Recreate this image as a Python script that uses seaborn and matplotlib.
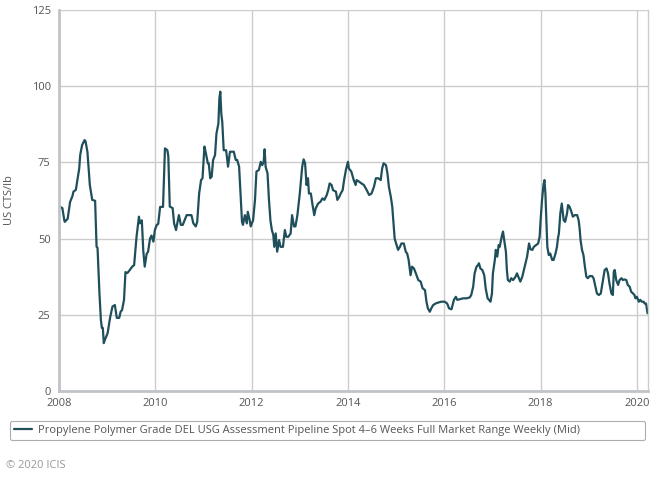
import matplotlib
matplotlib.use("Agg")
import matplotlib.pyplot as plt
import numpy as np
import pandas as pd
import seaborn as sns

# ── Data ──────────────────────────────────────────────────────────────────────
# x: decimal year, y: US cents per lb
years = [
    2008.02, 2008.07, 2008.11, 2008.12, 2008.18, 2008.23, 2008.28, 2008.30, 2008.35, 2008.39,
    2008.42, 2008.44, 2008.48, 2008.53, 2008.55, 2008.59, 2008.64, 2008.69, 2008.75, 2008.78,
    2008.80, 2008.84, 2008.87, 2008.89, 2008.91, 2008.93, 2008.95, 2009.01, 2009.06, 2009.11,
    2009.16, 2009.20, 2009.25, 2009.28, 2009.31, 2009.35, 2009.38, 2009.42, 2009.47, 2009.52,
    2009.56, 2009.61, 2009.66, 2009.68, 2009.72, 2009.75, 2009.78, 2009.82, 2009.85, 2009.89,
    2009.92, 2009.96, 2009.99, 2010.03, 2010.06, 2010.10, 2010.16, 2010.20, 2010.25, 2010.27,
    2010.30, 2010.36, 2010.39, 2010.43, 2010.45, 2010.49, 2010.53, 2010.57, 2010.65, 2010.75,
    2010.79, 2010.84, 2010.87, 2010.91, 2010.95, 2010.98, 2011.02, 2011.05, 2011.09, 2011.11,
    2011.14, 2011.17, 2011.20, 2011.24, 2011.27, 2011.31, 2011.33, 2011.35, 2011.37, 2011.39,
    2011.42, 2011.47, 2011.51, 2011.55, 2011.58, 2011.63, 2011.67, 2011.70, 2011.74, 2011.77,
    2011.80, 2011.82, 2011.86, 2011.90, 2011.92, 2011.96, 2011.98, 2012.03, 2012.07, 2012.10,
    2012.15, 2012.19, 2012.22, 2012.25, 2012.27, 2012.29, 2012.33, 2012.36, 2012.39, 2012.42,
    2012.45, 2012.47, 2012.50, 2012.53, 2012.57, 2012.60, 2012.65, 2012.69, 2012.72, 2012.76,
    2012.81, 2012.84, 2012.88, 2012.91, 2012.95, 2013.00, 2013.05, 2013.08, 2013.11, 2013.14,
    2013.17, 2013.19, 2013.23, 2013.26, 2013.30, 2013.33, 2013.38, 2013.43, 2013.47, 2013.51,
    2013.56, 2013.59, 2013.62, 2013.66, 2013.69, 2013.75, 2013.78, 2013.82, 2013.85, 2013.89,
    2013.92, 2013.96, 2014.00, 2014.02, 2014.07, 2014.12, 2014.16, 2014.18, 2014.23, 2014.28,
    2014.33, 2014.39, 2014.44, 2014.49, 2014.54, 2014.58, 2014.63, 2014.68, 2014.71, 2014.74,
    2014.79, 2014.82, 2014.85, 2014.89, 2014.92, 2014.95, 2014.97, 2015.01, 2015.04, 2015.08,
    2015.11, 2015.16, 2015.20, 2015.23, 2015.26, 2015.30, 2015.33, 2015.37, 2015.41, 2015.46,
    2015.51, 2015.55, 2015.60, 2015.63, 2015.66, 2015.70, 2015.73, 2015.77, 2015.82, 2015.87,
    2015.94, 2016.01, 2016.06, 2016.10, 2016.15, 2016.20, 2016.24, 2016.27, 2016.32, 2016.39,
    2016.46, 2016.53, 2016.56, 2016.60, 2016.63, 2016.67, 2016.70, 2016.72, 2016.75, 2016.79,
    2016.83, 2016.86, 2016.90, 2016.93, 2016.96, 2016.99, 2017.01, 2017.05, 2017.07, 2017.10,
    2017.13, 2017.15, 2017.20, 2017.22, 2017.24, 2017.28, 2017.30, 2017.32, 2017.36, 2017.39,
    2017.43, 2017.48, 2017.51, 2017.55, 2017.58, 2017.62, 2017.67, 2017.72, 2017.76, 2017.79,
    2017.83, 2017.86, 2017.91, 2017.95, 2017.98, 2018.00, 2018.03, 2018.06, 2018.08, 2018.10,
    2018.12, 2018.14, 2018.17, 2018.20, 2018.24, 2018.27, 2018.31, 2018.34, 2018.36, 2018.38,
    2018.41, 2018.44, 2018.48, 2018.51, 2018.55, 2018.57, 2018.60, 2018.64, 2018.67, 2018.71,
    2018.76, 2018.79, 2018.81, 2018.83, 2018.86, 2018.89, 2018.92, 2018.95, 2018.98, 2019.02,
    2019.07, 2019.10, 2019.14, 2019.17, 2019.21, 2019.25, 2019.29, 2019.33, 2019.37, 2019.40,
    2019.43, 2019.47, 2019.50, 2019.52, 2019.54, 2019.57, 2019.61, 2019.64, 2019.68, 2019.71,
    2019.74, 2019.78, 2019.81, 2019.85, 2019.88, 2019.92, 2019.95, 2019.97, 2020.00, 2020.04,
    2020.07, 2020.10, 2020.14, 2020.16, 2020.19, 2020.22,
]
prices = [
    60.4, 60.0, 56.0, 55.5, 56.5, 62.0, 64.0, 65.4, 66.0, 70.0,
    73.0, 77.4, 80.7, 82.3, 82.0, 78.5, 67.6, 62.7, 62.4, 47.3,
    47.0, 32.0, 23.3, 20.7, 20.7, 15.7, 16.7, 19.0, 24.0, 27.7,
    28.2, 24.0, 24.0, 26.0, 26.6, 29.9, 39.0, 38.7, 39.7, 40.8,
    41.3, 50.6, 57.2, 55.0, 56.0, 46.0, 40.8, 45.0, 45.7, 50.0,
    51.0, 49.0, 52.8, 54.5, 54.8, 60.4, 60.4, 79.6, 79.0, 77.0,
    60.5, 60.0, 55.0, 52.8, 54.5, 57.7, 54.5, 54.5, 57.7, 57.7,
    55.0, 54.0, 55.5, 64.8, 69.2, 69.8, 80.2, 78.0, 74.7, 74.7,
    69.8, 70.3, 75.8, 77.4, 84.5, 87.8, 96.0, 98.2, 91.0, 88.3,
    79.0, 79.0, 73.6, 78.5, 78.5, 78.5, 75.8, 75.8, 73.6, 64.8,
    55.5, 54.5, 57.7, 55.0, 58.8, 56.0, 54.0, 56.0, 62.7, 72.0,
    72.5, 75.2, 74.1, 75.2, 79.3, 73.6, 71.4, 62.7, 56.0, 52.8,
    51.2, 47.3, 51.7, 45.7, 49.5, 47.3, 47.3, 52.8, 50.6, 50.6,
    51.7, 57.7, 54.0, 54.0, 57.7, 64.8, 73.6, 76.0, 74.7, 67.6,
    69.8, 64.8, 64.8, 61.5, 57.7, 59.9, 61.5, 62.1, 63.2, 62.7,
    64.3, 65.9, 68.1, 67.6, 65.9, 65.4, 62.7, 63.7, 64.8, 65.9,
    69.2, 72.7, 75.2, 73.0, 72.0, 69.2, 67.6, 69.2, 68.7, 68.1,
    67.6, 65.9, 64.3, 64.8, 67.0, 69.8, 69.8, 69.2, 73.0, 74.7,
    74.1, 71.4, 67.0, 63.7, 60.5, 54.0, 50.0, 47.9, 46.3, 47.3,
    48.4, 48.4, 45.7, 45.1, 43.0, 38.0, 40.8, 40.2, 38.6, 36.4,
    35.9, 33.7, 33.1, 29.3, 27.1, 26.0, 27.1, 28.2, 28.7, 29.0,
    29.3, 29.3, 28.7, 27.1, 26.8, 29.9, 30.9, 29.9, 30.1, 30.4,
    30.4, 30.7, 31.5, 34.2, 38.6, 40.8, 41.3, 41.9, 40.2, 39.7,
    38.0, 33.7, 30.4, 29.9, 29.3, 32.0, 38.6, 43.0, 46.3, 44.1,
    47.9, 47.3, 51.2, 52.3, 50.0, 45.7, 39.7, 36.4, 35.9, 37.0,
    36.4, 37.5, 38.6, 37.0, 35.9, 37.5, 40.8, 44.1, 48.4, 46.5,
    46.3, 47.3, 47.9, 48.4, 50.6, 56.0, 62.7, 67.6, 69.2, 64.8,
    56.0, 47.3, 44.6, 45.1, 43.0, 43.0, 45.1, 47.3, 50.0, 51.7,
    58.3, 61.5, 56.0, 55.5, 58.3, 61.0, 60.5, 58.8, 57.2, 57.7,
    57.7, 56.0, 53.4, 49.5, 46.3, 44.6, 40.8, 37.5, 37.0, 37.7,
    37.7, 37.0, 34.2, 32.0, 31.5, 32.0, 35.9, 39.7, 40.2, 38.6,
    35.3, 32.0, 31.5, 39.1, 39.7, 36.4, 34.8, 36.4, 37.0, 36.4,
    36.6, 36.4, 34.8, 34.2, 32.6, 32.0, 31.5, 30.4, 30.9, 29.3,
    29.9, 29.3, 29.3, 28.7, 28.7, 25.5,
]
x_ticks = [2008, 2010, 2012, 2014, 2016, 2018, 2020]
y_ticks = [0, 25, 50, 75, 100, 125]
series_name = ("Propylene Polymer Grade DEL USG Assessment Pipeline Spot "
               "4\u20136 Weeks Full Market Range Weekly (Mid)")
y_label = "US CTS/lb"
credit = "\u00a9 2020 ICIS"

# ── Style ─────────────────────────────────────────────────────────────────────
LINE_COLOR = "#1f4f5b"
GRID_COLOR = "#cccccc"
TEXT_COLOR = "#555555"

sns.set_theme(style="whitegrid")
plt.rcParams["font.family"] = ["Open Sans", "DejaVu Sans"]

df = pd.DataFrame({"year": years, "price": prices})

fig = plt.figure(figsize=(6.68, 4.78), dpi=100)
ax = fig.add_axes([59 / 668, 1 - 391 / 478, (647.5 - 59) / 668, (391 - 10) / 478])

sns.lineplot(data=df, x="year", y="price", ax=ax, color=LINE_COLOR,
             linewidth=1.6, label=series_name, legend=False)

ax.set_xlim(2008, 2020.22)
ax.set_ylim(0, 125)
ax.set_xticks(x_ticks)
ax.set_yticks(y_ticks)
ax.set_xticklabels([str(t) for t in x_ticks])
ax.grid(True, color=GRID_COLOR, linewidth=1.0)
ax.tick_params(axis="both", colors=TEXT_COLOR, labelsize=8, length=0)
ax.tick_params(axis="x", pad=5)
ax.tick_params(axis="y", pad=6)
ax.set_xlabel("")
ax.set_ylabel(y_label, color=TEXT_COLOR, fontsize=8, labelpad=12)

for side in ["left", "bottom"]:
    ax.spines[side].set_color("#c0c4c8")
    ax.spines[side].set_linewidth(2.0)
ax.spines["right"].set_color(GRID_COLOR)
ax.spines["right"].set_linewidth(1.0)
ax.spines["top"].set_visible(False)

# legend box across the bottom
x0, x1 = 10 / 668, 645 / 668
y0, y1 = 1 - 443 / 478, 1 - 418 / 478
handles, labels = ax.get_legend_handles_labels()
leg = fig.legend(handles, labels, loc="center left",
                 bbox_to_anchor=(x0, y0, x1 - x0, y1 - y0), mode="expand",
                 fontsize=8, frameon=True, fancybox=True, handlelength=1.6,
                 handletextpad=0.5, borderaxespad=0)
leg.get_frame().set_edgecolor("#999999")
leg.get_frame().set_linewidth(0.8)
for t in leg.get_texts():
    t.set_color(TEXT_COLOR)

fig.text(6 / 668, 1 - 465 / 478, credit, color="#999999", fontsize=8, va="center")

fig.savefig("out.png", dpi=100)
